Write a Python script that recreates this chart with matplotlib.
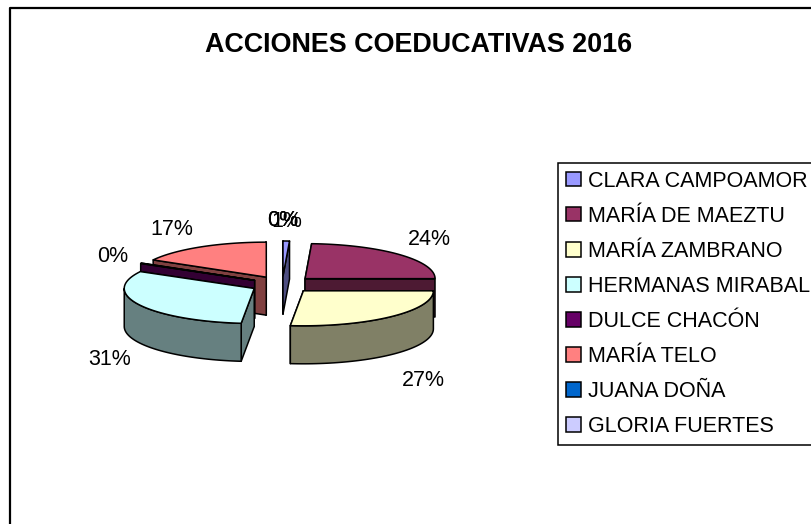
"""
ACCIONES COEDUCATIVAS 2016, exploded 3D style pie drawn with plain polygons.
"""
import matplotlib
matplotlib.use('Agg')
import matplotlib.pyplot as plt
from matplotlib.patches import Patch
import numpy as np

plt.rcParams['font.family'] = ['Liberation Sans', 'DejaVu Sans']

names = ['CLARA CAMPOAMOR', 'MARÍA DE MAEZTU', 'MARÍA ZAMBRANO', 'HERMANAS MIRABAL',
         'DULCE CHACÓN', 'MARÍA TELO', 'JUANA DOÑA', 'GLORIA FUERTES']
values = [0.8, 24.2, 26.6, 31.4, 0.2, 16.8, 0.0, 0.0]
top_colors = ['#9999FF', '#993366', '#FFFFCC', '#CCFFFF', '#660066', '#FF8080', '#0066CC', '#CCCCFF']

# pie geometry in pixels
CX, CY = 282.2, 284.5
RX, RY = 130.0, 35.0
DEPTH = 38.0
EXPLODE = 0.243

# label offsets from the top rim of each slice
label_offsets = [(1, -20), (30, -15), (33, 64), (-30, 55), (-28, -7), (-29, -17), (0, -20), (0, -20)]

# back to front
draw_order = [0, 5, 1, 4, 3, 2]


def darker(col):
    rgb = np.array(matplotlib.colors.to_rgb(col)) * 0.5
    return rgb


def rim(a0, a1, ox, oy, n=60):
    t = np.radians(np.linspace(a0, a1, n))
    return ox + RX * np.sin(t), oy - RY * np.cos(t)


def draw_slice(ax, a0, a1, color):
    mid = np.radians((a0 + a1) / 2)
    ox = CX + EXPLODE * RX * np.sin(mid)
    oy = CY - EXPLODE * RY * np.cos(mid)
    side = darker(color)
    kw = dict(edgecolor='black', linewidth=1.1, joinstyle='round')

    # flat cut faces, the far one first
    for a in sorted([a0, a1], key=lambda q: -np.cos(np.radians(q))):
        x, y = rim(a, a, ox, oy, 1)
        ax.fill([ox, x[0], x[0], ox], [oy, y[0], y[0] + DEPTH, oy + DEPTH], facecolor=side, **kw)

    # outer wall, only the part that faces the viewer
    lo, hi = max(a0, 90), min(a1, 270)
    if lo < hi:
        x, y = rim(lo, hi, ox, oy)
        ax.fill(np.r_[x, x[::-1]], np.r_[y, y[::-1] + DEPTH], facecolor=side, **kw)

    x, y = rim(a0, a1, ox, oy)
    ax.fill(np.r_[ox, x], np.r_[oy, y], facecolor=color, **kw)


fig = plt.figure(figsize=(8.12, 5.24), dpi=100)
ax = fig.add_axes([0, 0, 1, 1])
ax.set_xlim(0, 812)
ax.set_ylim(524, 0)
ax.axis('off')

# chart frame runs off the right and bottom of the picture
ax.plot([10, 10, 830], [540, 7.5, 7.5], color='black', linewidth=1.6)

ax.text(418.5, 44.5, 'ACCIONES COEDUCATIVAS 2016', ha='center', va='center',
        fontsize=19.4, fontweight='bold')

shares = np.array(values) / sum(values)
edges = np.r_[0, np.cumsum(shares)] * 360

for i in draw_order:
    draw_slice(ax, edges[i], edges[i + 1], top_colors[i])

for i, v in enumerate(values):
    mid = np.radians((edges[i] + edges[i + 1]) / 2)
    ox = CX + EXPLODE * RX * np.sin(mid) + RX * np.sin(mid)
    oy = CY - EXPLODE * RY * np.cos(mid) - RY * np.cos(mid)
    dx, dy = label_offsets[i]
    ax.text(ox + dx, oy + dy, f'{v:.0f}%', ha='center', va='center', fontsize=15.5)

handles = [Patch(facecolor=c, edgecolor='black', linewidth=1.1) for c in top_colors]
leg = ax.legend(handles, names, loc='upper left', bbox_to_anchor=(558 / 812, 1 - 162.5 / 524),
                fontsize=15.5, frameon=True, fancybox=False, edgecolor='black', framealpha=1,
                handlelength=0.67, handleheight=0.67, handletextpad=0.33,
                labelspacing=0.652, borderaxespad=0, borderpad=0.38)
leg.get_frame().set_linewidth(1.1)

fig.savefig('out.png', dpi=100)
